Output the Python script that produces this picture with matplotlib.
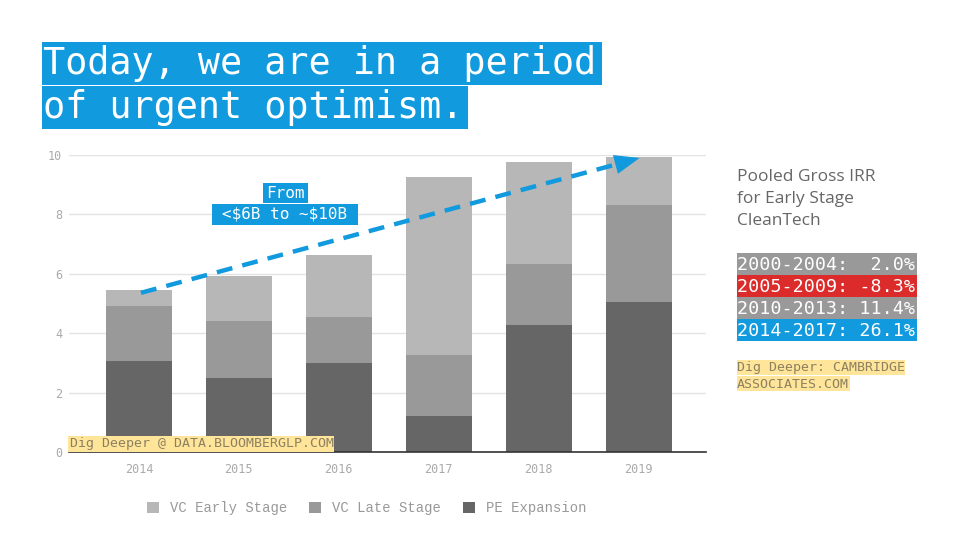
import matplotlib
matplotlib.use("Agg")
import matplotlib.pyplot as plt
from matplotlib.patches import Rectangle

years = ["2014", "2015", "2016", "2017", "2018", "2019"]
pe_expansion = [3.06, 2.49, 2.98, 1.22, 4.26, 5.06]
vc_late = [1.84, 1.93, 1.55, 2.04, 2.08, 3.24]
vc_early = [0.55, 1.51, 2.09, 5.99, 3.44, 1.63]
yticks = [0, 2, 4, 6, 8, 10]
irr_labels = ["2000-2004:  2.0%", "2005-2009: -8.3%", "2010-2013: 11.4%", "2014-2017: 26.1%"]
irr_colors = ["#999999", "#dc2b2b", "#999999", "#129ade"]
arrow_start = (0.02, 5.36)
arrow_end = (5.01, 9.9)

BLUE = "#129ade"
YELLOW = "#ffe599"
W, H = 960, 540

fig = plt.figure(figsize=(9.6, 5.4), dpi=100)
fig.patch.set_facecolor("white")

def fx(x):
    return x / W

def fy(y):
    return 1 - y / H

def frect(x0, y0, x1, y1, color, z=0):
    fig.patches.append(Rectangle((fx(x0), fy(y1)), fx(x1) - fx(x0), fy(y0) - fy(y1),
                                 transform=fig.transFigure, facecolor=color,
                                 edgecolor="none", zorder=z))

ax = fig.add_axes([fx(69), fy(452), fx(706) - fx(69), fy(155) - fy(452)])
x = list(range(len(years)))
bw = 0.66
b1 = ax.bar(x, pe_expansion, bw, color="#666666", label="PE Expansion", zorder=2)
b2 = ax.bar(x, vc_late, bw, bottom=pe_expansion, color="#999999", label="VC Late Stage", zorder=2)
bottom3 = [a + b for a, b in zip(pe_expansion, vc_late)]
b3 = ax.bar(x, vc_early, bw, bottom=bottom3, color="#b7b7b7", label="VC Early Stage", zorder=2)

ax.set_xlim(-0.70, 5.675)
ax.set_ylim(0, 10)
ax.set_yticks(yticks)
ax.set_xticks(x)
ax.set_xticklabels(years)
ax.grid(axis="y", color="#e3e3e3", linewidth=1, zorder=0)
ax.set_axisbelow(True)
for s in ["top", "right", "left"]:
    ax.spines[s].set_visible(False)
ax.spines["bottom"].set_color("#333333")
ax.spines["bottom"].set_linewidth(1.2)
ax.spines["bottom"].set_zorder(5)
ax.tick_params(axis="both", length=0, colors="#aaaaaa", labelsize=8.5)
ax.tick_params(axis="x", pad=8)
ax.tick_params(axis="y", pad=5)
for lab in ax.get_xticklabels() + ax.get_yticklabels():
    lab.set_family("DejaVu Sans Mono")

# dashed arrow
ax.plot([arrow_start[0], arrow_end[0] - 0.25], [arrow_start[1], arrow_end[1] - 0.23],
        color=BLUE, linestyle=(0, (3.6, 2.3)), linewidth=3.2, zorder=4,
        solid_capstyle="butt", clip_on=False)
ax.annotate("", xy=arrow_end, xytext=(arrow_end[0] - 0.3, arrow_end[1] - 0.27),
            arrowprops=dict(arrowstyle="-|>,head_length=1.8,head_width=0.7",
                            color=BLUE, lw=0, shrinkA=0, shrinkB=0),
            annotation_clip=False, zorder=4)

# annotation boxes
frect(263, 183, 308, 203, BLUE)
frect(212, 204, 358, 225, BLUE)
fig.text(fx(285.5), fy(193), "From", color="white", family="DejaVu Sans Mono",
         fontsize=11.5, ha="center", va="center")
fig.text(fx(285), fy(214.5), r"<\$6B to ~\$10B", color="white", family="DejaVu Sans Mono",
         fontsize=11.5, ha="center", va="center")

# bloomberg source
frect(68, 436, 334, 452, YELLOW, z=3)
fig.text(fx(70), fy(444), "Dig Deeper @ DATA.BLOOMBERGLP.COM", color="#8c8060",
         family="DejaVu Sans Mono", fontsize=9.5, ha="left", va="center", zorder=4)

# title
frect(42, 42, 602, 85, BLUE)
frect(42, 86, 468, 129, BLUE)
fig.text(fx(43), fy(64), "Today, we are in a period", color="white",
         family="DejaVu Sans Mono", fontsize=26.5, ha="left", va="center")
fig.text(fx(43), fy(108), "of urgent optimism.", color="white",
         family="DejaVu Sans Mono", fontsize=26.5, ha="left", va="center")

# right panel
for i, line in enumerate(["Pooled Gross IRR", "for Early Stage", "CleanTech"]):
    fig.text(fx(737), fy(177 + 22 * i), line, color="#666666", family="Open Sans",
             fontsize=12.5, ha="left", va="center")

row_top = 253
row_h = 22
for i, (lab, col) in enumerate(zip(irr_labels, irr_colors)):
    y0 = row_top + row_h * i
    frect(737, y0, 917, y0 + row_h, col)
    fig.text(fx(737), fy(y0 + row_h / 2 + 0.5), lab, color="white",
             family="DejaVu Sans Mono", fontsize=13.2, ha="left", va="center")

frect(737, 360, 905, 375, YELLOW)
frect(737, 376, 850, 391, YELLOW)
fig.text(fx(737), fy(368), "Dig Deeper: CAMBRIDGE", color="#8c8060",
         family="DejaVu Sans Mono", fontsize=9.5, ha="left", va="center")
fig.text(fx(737), fy(384), "ASSOCIATES.COM", color="#8c8060",
         family="DejaVu Sans Mono", fontsize=9.5, ha="left", va="center")

# legend
leg = fig.legend([b3, b2, b1], ["VC Early Stage", "VC Late Stage", "PE Expansion"],
                 loc="center", bbox_to_anchor=(fx(367), fy(508)), ncol=3,
                 frameon=False, handlelength=0.85, handleheight=0.85,
                 handletextpad=0.8, columnspacing=1.6,
                 prop={"family": "Liberation Mono", "size": 10})
for t in leg.get_texts():
    t.set_color("#999999")

fig.savefig("out.png", dpi=100, facecolor="white")
